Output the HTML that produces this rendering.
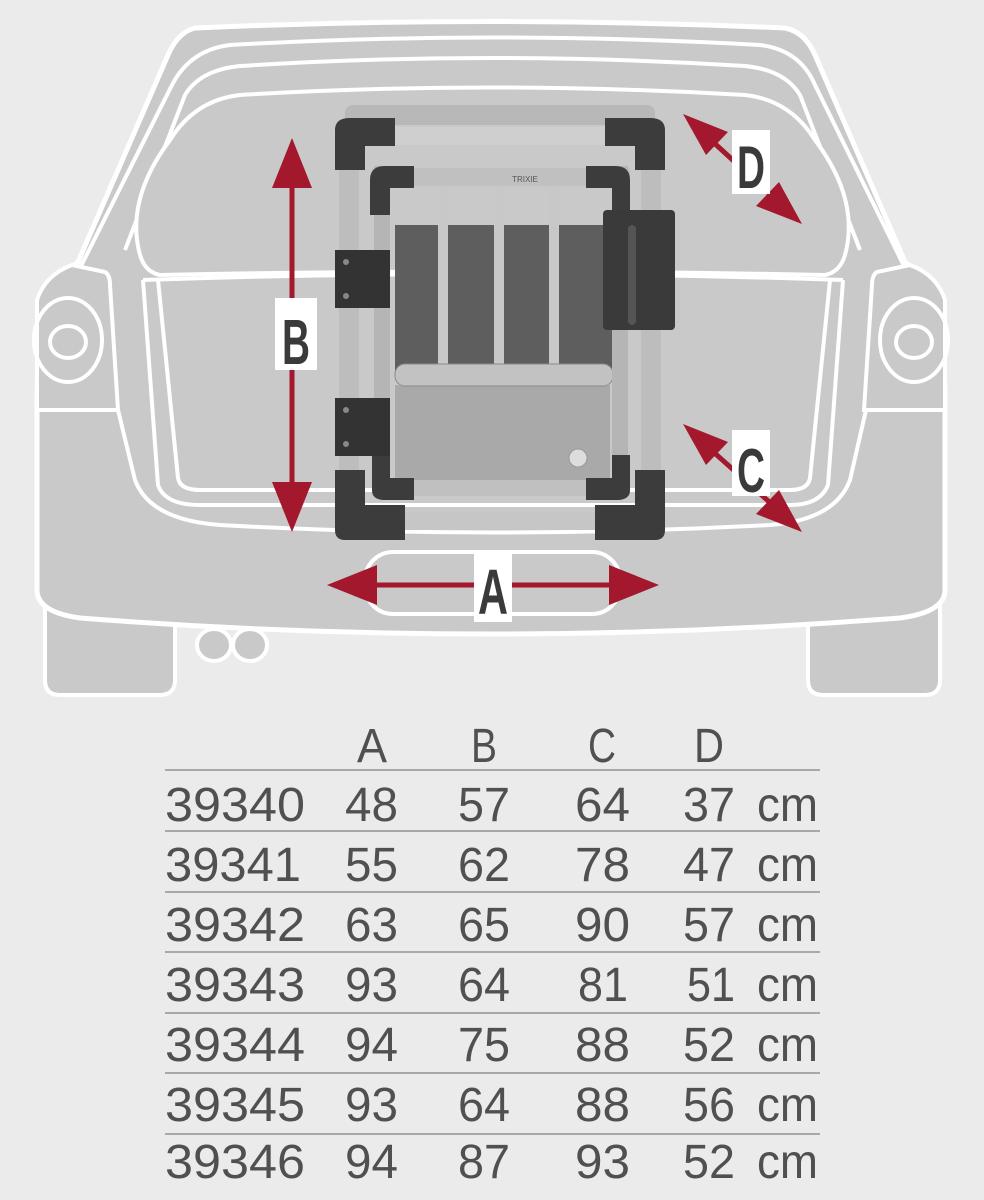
<!DOCTYPE html>
<html><head><meta charset="utf-8"><style>
html,body{margin:0;padding:0;background:#ebebeb;}
svg{display:block}
</style></head><body>
<svg width="984" height="1200" viewBox="0 0 984 1200" xmlns="http://www.w3.org/2000/svg">
<rect width="984" height="1200" fill="#ebebeb"/>
<path d="M45 600 L45 680 Q45 695 60 695 L160 695 Q175 695 175 680 L175 600 Z" fill="#c9c9c9" stroke="#fff" stroke-width="4"/>
<path d="M808 600 L808 680 Q808 695 823 695 L925 695 Q940 695 940 680 L940 600 Z" fill="#c9c9c9" stroke="#fff" stroke-width="4"/>
<ellipse cx="214" cy="645" rx="17" ry="16" fill="#c9c9c9" stroke="#fff" stroke-width="4"/>
<ellipse cx="250" cy="645" rx="17" ry="16" fill="#c9c9c9" stroke="#fff" stroke-width="4"/>
<!-- body -->
<path d="M195 28 Q490 15 785 28 Q805 32 815 55 L905 262 Q945 290 945 400 L945 590 Q945 612 900 618 Q490 650 80 618 Q37 612 37 590 L37 400 Q37 290 78 262 L168 55 Q178 32 195 28 Z" fill="#c9c9c9" stroke="#fff" stroke-width="5"/>
<path d="M80 268 L172 85 Q190 50 230 45 Q490 30 760 45 Q800 50 815 85 L905 268" fill="none" stroke="#fff" stroke-width="4"/>
<path d="M125 250 L185 95 Q200 70 240 66 Q490 50 745 66 Q785 70 800 95 L860 250" fill="none" stroke="#fff" stroke-width="4"/>
<!-- window -->
<path d="M140 255 Q125 200 170 140 Q195 100 240 95 Q490 80 745 95 Q790 100 815 140 Q860 200 845 255 Q840 272 825 275 Q490 268 160 275 Q145 272 140 255 Z" fill="#c9c9c9" stroke="#fff" stroke-width="4"/>
<!-- tailgate -->
<path d="M143 280 Q490 268 843 280" fill="none" stroke="#fff" stroke-width="4"/>
<path d="M158 280 L178 478 Q180 490 200 490 L790 490 Q808 490 810 478 L830 280" fill="none" stroke="#fff" stroke-width="4"/>
<path d="M143 280 L158 485 Q165 505 200 505 L790 505 Q820 505 828 485 L843 280" fill="none" stroke="#fff" stroke-width="4"/>
<path d="M118 410 L135 480 Q150 520 220 525 Q490 540 770 525 Q835 520 850 480 L866 410" fill="none" stroke="#fff" stroke-width="4"/>
<!-- taillights -->
<path d="M37 300 Q45 275 72 265 L105 272 Q110 275 110 285 L118 410 L37 410 Z" fill="#c9c9c9" stroke="#fff" stroke-width="4"/>
<ellipse cx="68" cy="340" rx="34" ry="42" fill="none" stroke="#fff" stroke-width="4"/>
<ellipse cx="68" cy="342" rx="18" ry="16" fill="none" stroke="#fff" stroke-width="4"/>
<path d="M945 300 Q937 275 910 265 L877 272 Q872 275 872 285 L864 410 L945 410 Z" fill="#c9c9c9" stroke="#fff" stroke-width="4"/>
<ellipse cx="914" cy="340" rx="34" ry="42" fill="none" stroke="#fff" stroke-width="4"/>
<ellipse cx="914" cy="342" rx="18" ry="16" fill="none" stroke="#fff" stroke-width="4"/>
<rect x="365" y="552" width="255" height="62" rx="28" fill="#c9c9c9" stroke="#fff" stroke-width="4"/>
<!-- crate -->
<g>
<rect x="345" y="105" width="310" height="20" rx="8" fill="#b8b8b8"/>
<rect x="395" y="225" width="225" height="150" fill="#5e5e5e"/>
<rect x="395" y="385" width="215" height="97" fill="#a9a9a9"/>
<rect x="438" y="185" width="10" height="182" fill="#c8c8c8"/>
<rect x="494" y="185" width="10" height="182" fill="#c8c8c8"/>
<rect x="549" y="185" width="10" height="182" fill="#c8c8c8"/>
<rect x="395" y="364" width="218" height="22" rx="10" fill="#c2c2c2" stroke="#8a8a8a"/>
<rect x="372" y="168" width="258" height="18" fill="#c0c0c0"/>
<rect x="374" y="166" width="16" height="320" fill="#b5b5b5"/>
<rect x="612" y="166" width="16" height="320" fill="#b5b5b5"/>
<rect x="372" y="480" width="258" height="16" fill="#c0c0c0"/>
<rect x="339" y="122" width="20" height="410" fill="#bdbdbd"/>
<rect x="641" y="122" width="20" height="410" fill="#bdbdbd"/>
<rect x="345" y="127" width="310" height="18" fill="#cfcfcf"/>
<rect x="345" y="512" width="310" height="18" fill="#c6c6c6"/>
<path d="M335 170 L335 130 Q335 118 350 118 L395 118 L395 146 L365 146 L365 170 Z" fill="#3c3c3c"/>
<path d="M665 170 L665 130 Q665 118 650 118 L605 118 L605 146 L635 146 L635 170 Z" fill="#3c3c3c"/>
<path d="M335 470 L335 530 Q335 540 345 540 L405 540 L405 505 L365 505 L365 470 Z" fill="#3c3c3c"/>
<path d="M665 470 L665 530 Q665 540 655 540 L595 540 L595 505 L635 505 L635 470 Z" fill="#3c3c3c"/>
<path d="M370 215 L370 180 Q370 166 385 166 L414 166 L414 188 L390 188 L390 215 Z" fill="#3c3c3c"/>
<path d="M630 215 L630 180 Q630 166 615 166 L586 166 L586 188 L612 188 L612 215 Z" fill="#3c3c3c"/>
<path d="M372 455 L372 490 Q372 500 385 500 L414 500 L414 478 L390 478 L390 455 Z" fill="#3c3c3c"/>
<path d="M630 455 L630 490 Q630 500 617 500 L586 500 L586 478 L612 478 L612 455 Z" fill="#3c3c3c"/>
<rect x="603" y="210" width="72" height="120" rx="4" fill="#3a3a3a"/>
<rect x="628" y="225" width="8" height="100" rx="4" fill="#555"/>
<rect x="335" y="250" width="55" height="58" fill="#333"/>
<rect x="335" y="398" width="55" height="58" fill="#333"/>
<circle cx="346" cy="262" r="3" fill="#888"/><circle cx="346" cy="296" r="3" fill="#888"/>
<circle cx="346" cy="410" r="3" fill="#888"/><circle cx="346" cy="444" r="3" fill="#888"/>
<circle cx="578" cy="458" r="9" fill="#ddd" stroke="#999"/>
<text x="525" y="182" font-family="Liberation Sans, sans-serif" font-size="8" fill="#555" text-anchor="middle">TRIXIE</text>
</g>
<g fill="#a3182c" stroke="#a3182c">
<line x1="292" y1="170" x2="292" y2="500" stroke-width="5"/>
<polygon points="292,138 272,188 312,188" stroke="none"/>
<polygon points="292,532 272,482 312,482" stroke="none"/>
<line x1="360" y1="585" x2="626" y2="585" stroke-width="5"/>
<polygon points="327,585 377,565 377,605" stroke="none"/>
<polygon points="659,585 609,565 609,605" stroke="none"/>
<line x1="700" y1="130" x2="785" y2="208" stroke-width="5"/>
<polygon points="683,114 728,132 706,155" stroke="none"/>
<polygon points="802,224 756,206 779,182" stroke="none"/>
<line x1="700" y1="440" x2="785" y2="516" stroke-width="5"/>
<polygon points="683,424 728,442 706,465" stroke="none"/>
<polygon points="802,532 756,514 779,490" stroke="none"/>
</g>
<g font-family="Liberation Sans, sans-serif" font-weight="bold" fill="#3a3a3a" text-anchor="middle">
<rect x="275" y="298" width="42" height="72" fill="#fff"/>
<text x="296" y="364" font-size="64" textLength="28" lengthAdjust="spacingAndGlyphs">B</text>
<rect x="474" y="550" width="38" height="72" fill="#fff"/>
<text x="493" y="614" font-size="64" textLength="30" lengthAdjust="spacingAndGlyphs">A</text>
<rect x="732" y="130" width="38" height="64" fill="#fff"/>
<text x="751" y="188" font-size="60" textLength="28" lengthAdjust="spacingAndGlyphs">D</text>
<rect x="732" y="430" width="38" height="66" fill="#fff"/>
<text x="751" y="492" font-size="62" textLength="28" lengthAdjust="spacingAndGlyphs">C</text>
</g>
<g stroke="#a8a8a8" stroke-width="2">
<line x1="165" y1="770" x2="820" y2="770"/><line x1="165" y1="831" x2="820" y2="831"/>
<line x1="165" y1="892" x2="820" y2="892"/><line x1="165" y1="952" x2="820" y2="952"/>
<line x1="165" y1="1013" x2="820" y2="1013"/><line x1="165" y1="1073" x2="820" y2="1073"/>
<line x1="165" y1="1134" x2="820" y2="1134"/>
</g>
<g font-family="Liberation Sans, sans-serif" font-size="48" fill="#505050" lengthAdjust="spacingAndGlyphs">
<g text-anchor="middle"><text x="372" y="762" textLength="30" lengthAdjust="spacingAndGlyphs">A</text><text x="484" y="762" textLength="26" lengthAdjust="spacingAndGlyphs">B</text><text x="602" y="762" textLength="28" lengthAdjust="spacingAndGlyphs">C</text><text x="709" y="762" textLength="30" lengthAdjust="spacingAndGlyphs">D</text></g>
<g>
<text x="165" y="821" textLength="140" lengthAdjust="spacingAndGlyphs">39340</text>
<text x="165" y="881" textLength="136" lengthAdjust="spacingAndGlyphs">39341</text>
<text x="165" y="941" textLength="140" lengthAdjust="spacingAndGlyphs">39342</text>
<text x="165" y="1001" textLength="140" lengthAdjust="spacingAndGlyphs">39343</text>
<text x="165" y="1061" textLength="140" lengthAdjust="spacingAndGlyphs">39344</text>
<text x="165" y="1121" textLength="140" lengthAdjust="spacingAndGlyphs">39345</text>
<text x="165" y="1178" textLength="140" lengthAdjust="spacingAndGlyphs">39346</text>
</g>
<g>
<text x="345" y="821" textLength="53" lengthAdjust="spacingAndGlyphs">48</text><text x="458" y="821" textLength="52" lengthAdjust="spacingAndGlyphs">57</text><text x="575" y="821" textLength="55" lengthAdjust="spacingAndGlyphs">64</text><text x="683" y="821" textLength="52" lengthAdjust="spacingAndGlyphs">37</text>
<text x="345" y="881" textLength="53" lengthAdjust="spacingAndGlyphs">55</text><text x="458" y="881" textLength="52" lengthAdjust="spacingAndGlyphs">62</text><text x="575" y="881" textLength="55" lengthAdjust="spacingAndGlyphs">78</text><text x="683" y="881" textLength="52" lengthAdjust="spacingAndGlyphs">47</text>
<text x="345" y="941" textLength="53" lengthAdjust="spacingAndGlyphs">63</text><text x="458" y="941" textLength="52" lengthAdjust="spacingAndGlyphs">65</text><text x="575" y="941" textLength="55" lengthAdjust="spacingAndGlyphs">90</text><text x="683" y="941" textLength="52" lengthAdjust="spacingAndGlyphs">57</text>
<text x="345" y="1001" textLength="53" lengthAdjust="spacingAndGlyphs">93</text><text x="458" y="1001" textLength="52" lengthAdjust="spacingAndGlyphs">64</text><text x="578" y="1001" textLength="50" lengthAdjust="spacingAndGlyphs">81</text><text x="687" y="1001" textLength="48" lengthAdjust="spacingAndGlyphs">51</text>
<text x="345" y="1061" textLength="53" lengthAdjust="spacingAndGlyphs">94</text><text x="458" y="1061" textLength="52" lengthAdjust="spacingAndGlyphs">75</text><text x="575" y="1061" textLength="55" lengthAdjust="spacingAndGlyphs">88</text><text x="683" y="1061" textLength="52" lengthAdjust="spacingAndGlyphs">52</text>
<text x="345" y="1121" textLength="53" lengthAdjust="spacingAndGlyphs">93</text><text x="458" y="1121" textLength="52" lengthAdjust="spacingAndGlyphs">64</text><text x="575" y="1121" textLength="55" lengthAdjust="spacingAndGlyphs">88</text><text x="683" y="1121" textLength="52" lengthAdjust="spacingAndGlyphs">56</text>
<text x="345" y="1178" textLength="53" lengthAdjust="spacingAndGlyphs">94</text><text x="458" y="1178" textLength="52" lengthAdjust="spacingAndGlyphs">87</text><text x="575" y="1178" textLength="55" lengthAdjust="spacingAndGlyphs">93</text><text x="683" y="1178" textLength="52" lengthAdjust="spacingAndGlyphs">52</text>
</g>
<g>
<text x="757" y="821" textLength="61" lengthAdjust="spacingAndGlyphs">cm</text><text x="757" y="881" textLength="61" lengthAdjust="spacingAndGlyphs">cm</text><text x="757" y="941" textLength="61" lengthAdjust="spacingAndGlyphs">cm</text><text x="757" y="1001" textLength="61" lengthAdjust="spacingAndGlyphs">cm</text><text x="757" y="1061" textLength="61" lengthAdjust="spacingAndGlyphs">cm</text><text x="757" y="1121" textLength="61" lengthAdjust="spacingAndGlyphs">cm</text><text x="757" y="1178" textLength="61" lengthAdjust="spacingAndGlyphs">cm</text>
</g>
</g>
</svg>
</body></html>
